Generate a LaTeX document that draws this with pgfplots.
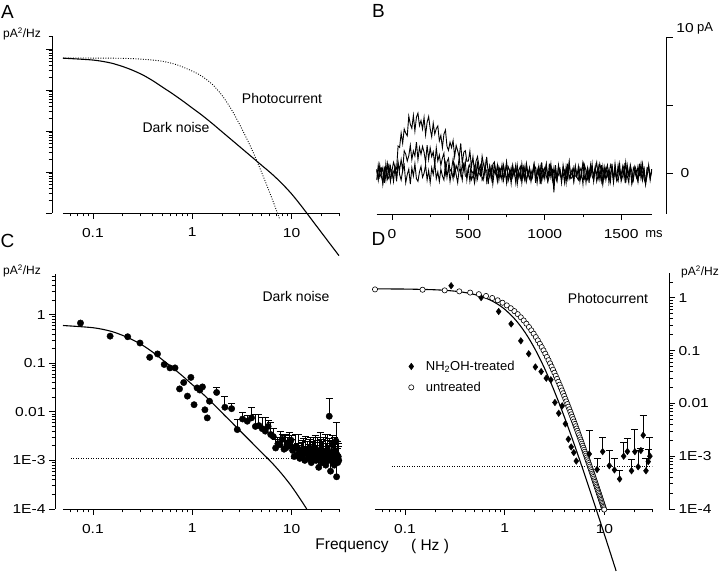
\documentclass[border=0pt]{standalone}
\usepackage{fontspec}
\setmainfont{Liberation Sans}
\newfontfamily\tickfont{Liberation Sans}[FakeStretch=1.2]
\usepackage{pgfplots}
\pgfplotsset{compat=1.18}
\usepackage{pgfplotstable}
\newcommand\fs[1]{\fontsize{#1}{#1}\selectfont}
\pgfplotsset{
  mybase/.style={scale only axis, clip=false, anchor=south west,
    axis line style={-, line width=0.9pt, black},
    tick style={black, line width=0.8pt},
    tick align=outside, major tick length=6pt, minor tick length=3.5pt,
    tick label style={font=\tickfont\fs{13}},
    xticklabel style={yshift=-5.5pt}},
  mycurve/.style={black, line width=1.1pt, smooth, no markers},
  mydots/.style={black, only marks, mark=*, mark size=3.2pt},
  myebar/.style={error bars/y dir=plus, error bars/y explicit,
    error bars/error bar style={line width=0.9pt, black},
    error bars/error mark options={rotate=90, mark size=3.5pt, line width=0.9pt, black}},
}
\pgfplotstableread{
t a b c
-100 0.3 0.2 -0.5
-90 -0.5 -0.4 0.6
-80 0.6 0.3 -0.3
-70 -0.2 0.4 0.0
-60 -0.7 -0.8 0.4
-50 0.4 0.2 -0.7
-40 0.1 -0.5 0.7
-30 -0.4 0.7 -0.2
-20 0.7 -0.1 -0.4
-10 -0.6 0.5 0.3
0 0.2 -0.3 0.2
10 0.8 0.1 -0.6
20 0.4 0.4 0.5
30 0.3 -0.6 -0.3
40 2.0 0.7 0.8
50 1.9 0.25 -0.1
60 2.95 1.0 -0.5
70 2.2 0.2 0.2
80 3.25 1.65 0.6
90 2.95 1.4 -0.7
100 2.75 0.9 -0.1
110 4.2 1.28 0.3
120 3.6 2.05 -0.8
130 3.3 1.0 0.4
140 4.25 1.64 -0.2
150 3.1 1.27 0.7
160 4.12 2.29 -0.4
170 4.42 1.0 -0.6
180 3.5 1.9 0.1
190 3.88 1.39 0.5
200 3.25 1.97 -0.3
210 4.1 1.54 0.0
220 2.82 0.8 0.6
230 3.75 2.06 -0.5
240 4.17 1.02 0.2
250 3.28 1.87 -0.7
260 2.68 1.22 0.4
270 3.68 1.57 -0.1
280 2.88 0.62 0.8
290 3.28 1.86 -0.4
300 3.48 0.9 0.1
310 2.38 1.34 -0.6
320 2.78 0.58 0.3
330 1.88 1.12 -0.2
340 2.88 1.46 -0.5
350 3.18 0.0 0.7
360 1.98 0.85 -0.3
370 1.68 1.1 0.5
380 2.28 0.15 -0.6
390 1.88 0.3 0.2
400 2.4 1.05 -0.4
410 1.22 -0.1 0.6
420 2.04 0.56 -0.1
430 1.66 0.22 -0.7
440 1.18 1.18 0.3
450 2.2 -0.06 0.1
460 0.72 0.6 -0.5
470 1.54 0.17 0.8
480 1.66 0.84 -0.2
490 0.88 -0.49 -0.3
500 0.9 0.38 0.4
510 1.63 0.65 -0.6
520 0.46 -0.48 0.2
530 1.2 -0.2 0.0
540 0.04 0.48 -0.7
550 0.88 -0.44 0.5
560 1.22 0.74 -0.4
570 0.46 0.02 0.3
580 0.0 -0.2 0.6
590 1.25 0.6 -0.5
600 0.6 -0.4 -0.2
610 0.15 0.3 0.7
620 1.2 0.2 -0.6
630 -0.04 -0.8 0.1
640 0.52 0.5 -0.3
650 -0.42 -0.1 0.4
660 0.65 -0.3 -0.8
670 0.82 0.7 0.2
680 0.09 0.1 -0.1
690 -0.34 -0.6 0.6
700 0.44 0.4 -0.5
710 0.12 -0.2 0.3
720 -0.5 0.6 0.5
730 0.59 -0.5 -0.4
740 -0.12 0.3 -0.1
750 0.77 -0.7 0.8
760 -0.34 0.5 -0.6
770 0.15 0.2 -0.2
780 -0.76 -0.3 0.4
790 0.43 0.6 -0.3
800 -0.08 -0.1 0.2
810 0.6 0.4 -0.7
820 -0.3 -0.8 0.6
830 0.2 0.1 -0.3
840 0.5 -0.4 0.1
850 -0.7 0.7 -0.5
860 0.3 -0.2 0.4
870 -0.5 0.5 -0.6
880 0.6 -0.6 0.7
890 -0.2 0.0 0.0
900 0.4 0.3 -0.4
910 -0.6 -0.5 0.2
920 0.1 -0.1 -0.3
930 0.7 0.6 0.6
940 -0.3 0.4 -0.7
950 -0.1 -0.7 0.3
960 0.5 0.2 -0.1
970 -0.8 -0.4 0.5
980 0.2 0.8 -0.6
990 0.3 -0.3 0.1
1000 -0.4 0.1 0.4
1010 0.6 0.7 -0.2
1020 -0.2 -0.6 -0.6
1030 0.0 -0.2 0.7
1040 0.7 0.5 -0.3
1050 -0.5 0.1 0.2
1060 0.4 -0.8 -1.4
1070 -0.3 0.3 0.6
1080 -0.6 -0.5 -0.4
1090 0.5 0.6 -0.1
1100 0.2 -0.2 0.3
1110 -0.7 -0.3 -0.5
1120 0.6 0.4 0.1
1130 -0.1 0.2 -0.7
1140 0.3 -0.7 0.5
1150 -0.4 0.7 -0.2
1160 0.8 -0.4 0.8
1170 -0.2 0.0 -0.4
1180 0.1 0.3 -0.3
1190 -0.6 -0.6 0.4
1200 0.5 0.5 -0.2
1210 -0.3 -0.1 -0.3
1220 -0.5 0.2 0.5
1230 0.4 -0.5 -0.6
1240 0.1 -0.3 0.2
1250 -0.8 0.8 0.7
1260 0.6 0.4 -0.4
1270 0.2 -0.7 -0.1
1280 -0.4 0.1 0.4
1290 0.3 -0.4 -0.7
1300 -0.2 0.6 0.6
1310 0.7 0.3 -0.2
1320 -0.6 -0.2 -0.5
1330 0.3 0.5 0.3
1340 -0.1 -0.6 0.8
1350 0.5 -0.1 -0.4
1360 -0.4 0.7 0.1
1370 0.6 0.2 -0.6
1380 -0.7 -0.8 0.5
1390 0.0 0.4 -0.3
1400 0.4 -0.5 0.2
1410 -0.2 0.1 0.6
1420 0.3 -0.3 -0.7
1430 -0.6 0.6 0.0
1440 0.7 0.3 0.4
1450 -0.3 -0.7 -0.5
1460 0.1 0.5 0.7
1470 -0.5 -0.4 -0.3
1480 0.6 0.0 -0.6
1490 -0.1 0.7 0.3
1500 -0.4 -0.6 -0.1
1510 0.2 -0.2 0.5
1520 0.6 0.3 -0.4
1530 -0.7 -0.5 0.8
1540 0.3 0.6 -0.2
1550 -0.2 -0.1 -0.7
1560 0.5 0.4 0.6
1570 -0.6 -0.8 0.1
1580 0.4 -0.3 -0.5
1590 0.1 0.5 0.4
1600 -0.3 0.2 -0.3
1610 0.5 -0.6 -0.6
1620 -0.1 0.7 0.4
1630 0.7 -0.4 -0.1
1640 -0.5 0.1 0.7
1650 0.2 0.4 -0.4
1660 -0.8 -0.7 -0.8
1670 0.4 -0.2 0.3
1680 0.3 0.6 0.5
1690 -0.4 -0.5 -0.2
1700 0.2 0.3 0.1
}\tracesB
\pgfplotstableread{
f s e
1.76 0.025 0.007
2.13 0.0124 0.0086
2.49 0.0116 0.0034
2.84 0.0043 0.0028
3.21 0.0071 0.0024
3.58 0.0064 0.0021
3.95 0.0075 0.0045
4.32 0.0050 0.0037
4.69 0.0052 0.0035
5.06 0.0045 0.0032
5.43 0.0040 0.0035
5.80 0.0050 0.0015
6.17 0.0034 0.0025
6.54 0.0031 0.0014
6.91 0.0018 0.0009
7.28 0.0022 0.0008
7.65 0.0021 0.0019
8.02 0.0027 0.0007
8.39 0.0017 0.0015
8.76 0.0018 0.0016
9.13 0.0023 0.0007
9.50 0.0020 0.0017
9.87 0.0026 0.0007
10.24 0.0016 0.0011
10.61 0.0012 0.0007
10.98 0.0019 0.0015
11.35 0.0013 0.0009
11.72 0.0017 0.0017
12.09 0.0011 0.0009
12.46 0.0015 0.0008
12.83 0.0012 0.0014
13.20 0.0016 0.0012
13.57 0.0010 0.0009
13.94 0.0014 0.0017
14.31 0.0017 0.0008
14.68 0.0011 0.0010
15.05 0.0013 0.0014
15.42 0.0016 0.0014
15.79 0.0009 0.0009
16.16 0.0012 0.0012
16.53 0.0018 0.0011
16.90 0.0011 0.0012
17.27 0.0014 0.0018
17.64 0.0010 0.0010
18.01 0.0016 0.0010
18.38 0.0012 0.0018
18.75 0.00072 0.0009
19.12 0.0013 0.0010
19.49 0.0011 0.0027
19.86 0.0017 0.0010
20.23 0.0009 0.0010
20.60 0.0014 0.0011
20.97 0.0012 0.0017
21.34 0.0010 0.0008
21.71 0.0015 0.0019
22.08 0.0008 0.0009
22.45 0.0013 0.0009
22.82 0.0011 0.0015
23.19 0.0016 0.0019
23.56 0.0010 0.0010
23.93 0.0081 0.0104
24.30 0.0012 0.0016
24.67 0.0006 0.0007
25.04 0.0014 0.0010
25.41 0.0010 0.0012
25.78 0.0021 0.0012
26.15 0.0009 0.0010
26.52 0.0013 0.0013
26.89 0.0008 0.0009
27.26 0.0016 0.0013
27.63 0.0011 0.0010
28.00 0.0025 0.0035
28.37 0.00046 0.0005
28.74 0.0013 0.0011
29.11 0.0009 0.0009
29.48 0.0012 0.0010
29.85 0.0010 0.0009
}\darkbinned
\pgfplotstableread{
f s e
7.04 0.0011 0.0020
8.43 0.00056 0.00033
9.6 0.00122 0.00108
11.2 0.00066 0.00062
12.6 0.00055 0.00034
14.2 0.00037 0.00017
15.6 0.0010 0.0008
17.0 0.00123 0.00097
18.7 0.00053 0.00032
20.2 0.00122 0.00198
21.8 0.00063 0.00065
23.2 0.00128 0.00012
24.5 0.0025 0.0034
26.1 0.00053 0.00036
27.5 0.00079 0.00057
28.6 0.0010 0.0013
}\nhbinned
\begin{document}
\begin{tikzpicture}
\useasboundingbox (0pt,0pt) rectangle (720pt,572pt);
% ---------------- Panel A
\begin{axis}[mybase, xmode=log, ymode=log, xmin=0.05, xmax=30, ymin=1e-4, ymax=2.07,
  at={(63pt,359pt)}, width=276pt, height=177pt,
  axis x line*=bottom, axis y line=none, ytick=\empty,
  xtick={0.1,1,10}, xticklabels={0.1,1,10},
  minor xtick={0.06,0.07,0.08,0.09,0.2,0.3,0.4,0.5,0.6,0.7,0.8,0.9,2,3,4,5,6,7,8,9,20,30}]
\addplot[mycurve] coordinates {(0.05,0.596) (0.1,0.537) (0.15,0.457) (0.2,0.372) (0.251,0.302) (0.316,0.234) (0.398,0.170) (0.501,0.1175) (0.631,0.0813) (0.794,0.0550) (1,0.0363) (1.259,0.0240) (1.585,0.01531) (1.995,0.00955) (2.512,0.00596) (3.162,0.00372) (3.981,0.00232) (5.012,0.001445) (6.31,0.000902) (7.943,0.000531) (10,0.000292) (12.59,0.0001462) (15.85,0.0000700) (19.95,0.0000335) (25.12,0.00001603) (30,0.00000912)};
\addplot[black, line width=0.9pt, dash pattern=on 0.9pt off 1.6pt, smooth] coordinates {(0.05,0.6026) (0.1,0.5998) (0.2,0.5916) (0.316,0.5623) (0.5,0.5012) (0.708,0.4074) (1,0.2884) (1.259,0.2138) (1.585,0.1380) (1.995,0.0741) (2.512,0.0316) (3.162,0.01122) (3.981,0.003548) (5.012,0.000955) (6.31,0.000234) (7.586,0.0000708)};
\end{axis}
\begin{axis}[mybase, ymode=log, xmin=0, xmax=1, ymin=1e-4, ymax=2.07,
  at={(52pt,359pt)}, width=10pt, height=177pt,
  axis x line=none, xtick=\empty, axis y line*=left,
  ytick={1e-4,1e-3,0.01,0.1,1}, yticklabels={,,,,},
  minor ytick={2e-4,3e-4,4e-4,5e-4,6e-4,7e-4,8e-4,9e-4,2e-3,3e-3,4e-3,5e-3,6e-3,7e-3,8e-3,9e-3,0.02,0.03,0.04,0.05,0.06,0.07,0.08,0.09,0.2,0.3,0.4,0.5,0.6,0.7,0.8,0.9,2}]
\end{axis}
% ---------------- Panel B
\begin{axis}[mybase, at={(376.7pt,358pt)}, width=275pt, height=176.7pt, xmin=-100, xmax=1700, ymin=-3, ymax=10,
  axis x line*=bottom, axis y line=none, ytick=\empty, xtick={0,500,1000,1500}, xticklabels={0,500,1000,1500}, minor xtick={250,750,1250}]
\addplot[black, line width=0.9pt] table[x=t, y=c] {\tracesB};
\addplot[black, line width=0.9pt] table[x=t, y=b] {\tracesB};
\addplot[black, line width=0.9pt] table[x=t, y=a] {\tracesB};
\end{axis}
\begin{axis}[mybase, at={(376.7pt,358pt)}, width=290pt, height=176.7pt, xmin=0, xmax=1, axis x line=none, xtick=\empty,
  ymin=-3, ymax=10, axis y line*=right, ytick={0,5,10}, yticklabels={,,}]
\end{axis}
% ---------------- Panel C
\begin{axis}[mybase, xmode=log, ymode=log, xmin=0.05, xmax=30, ymin=1e-4, ymax=6.84,
  at={(63pt,63pt)}, width=276pt, height=235pt,
  axis x line*=bottom, axis y line=none, ytick=\empty,
  xtick={0.1,1,10}, xticklabels={0.1,1,10},
  minor xtick={0.06,0.07,0.08,0.09,0.2,0.3,0.4,0.5,0.6,0.7,0.8,0.9,2,3,4,5,6,7,8,9,20,30}]
\addplot[black, line width=0.9pt, dash pattern=on 0.9pt off 1.6pt] coordinates {(0.06,0.0011) (30,0.0011)};
\addplot[mycurve] coordinates {(0.05,0.596) (0.1,0.537) (0.15,0.457) (0.2,0.372) (0.251,0.302) (0.316,0.234) (0.398,0.170) (0.501,0.1175) (0.631,0.0813) (0.794,0.0550) (1,0.0363) (1.259,0.0240) (1.585,0.01531) (1.995,0.00955) (2.512,0.00596) (3.162,0.00372) (3.981,0.00232) (5.012,0.001445) (6.31,0.000902) (7.943,0.000531) (10,0.000292) (12.59,0.0001462) (14.2,0.0001)};
\addplot[mydots] coordinates {(0.075,0.67) (0.149,0.36) (0.224,0.35) (0.298,0.26) (0.373,0.132) (0.447,0.155) (0.522,0.094) (0.596,0.080) (0.671,0.080) (0.745,0.0296) (0.820,0.040) (0.894,0.021) (0.969,0.051) (1.043,0.014) (1.118,0.031) (1.192,0.028) (1.267,0.0325) (1.341,0.011) (1.416,0.0075) (1.490,0.0165)};
\addplot[mydots, myebar] table[x=f, y=s, y error plus=e] {\darkbinned};
\end{axis}
\begin{axis}[mybase, ymode=log, xmin=0, xmax=1, ymin=1e-4, ymax=6.84,
  at={(55pt,63pt)}, width=10pt, height=235pt,
  axis x line=none, xtick=\empty, axis y line*=left,
  ytick={1e-4,1e-3,0.01,0.1,1}, yticklabels={1E-4,1E-3,0.01,0.1,1},
  minor ytick={2e-4,3e-4,4e-4,5e-4,6e-4,7e-4,8e-4,9e-4,2e-3,3e-3,4e-3,5e-3,6e-3,7e-3,8e-3,9e-3,0.02,0.03,0.04,0.05,0.06,0.07,0.08,0.09,0.2,0.3,0.4,0.5,0.6,0.7,0.8,0.9,2,3,4,5,6}]
\end{axis}
% ---------------- Panel D
\begin{axis}[mybase, xmode=log, ymode=log, xmin=0.05, xmax=30, ymin=1e-4, ymax=2.95,
  at={(375pt,63pt)}, width=277pt, height=236pt,
  axis x line*=bottom, axis y line=none, ytick=\empty,
  xtick={0.1,1,10}, xticklabels={0.1,1,10},
  minor xtick={0.06,0.07,0.08,0.09,0.2,0.3,0.4,0.5,0.6,0.7,0.8,0.9,2,3,4,5,6,7,8,9,20,30},
  legend style={draw=none, fill=none, at={(0.11,0.645)}, anchor=north west, font=\fs{13}, row sep=6pt},
  legend cell align=left]
\addplot[black, line width=0.9pt, dash pattern=on 0.9pt off 1.6pt, forget plot] coordinates {(0.074,0.00063) (30,0.00063)};
\addplot[mycurve, forget plot] coordinates {(0.05,1.475) (0.1,1.464) (0.2,1.419) (0.3,1.349) (0.4,1.258) (0.5,1.153) (0.6,1.040) (0.7,0.9245) (0.8,0.8116) (0.9,0.7047) (1.0,0.6066) (1.2,0.4396) (1.4,0.3130) (1.6,0.2206) (1.8,0.1550) (2.0,0.1091) (2.25,0.0710) (2.5,0.04675) (2.75,0.03126) (3.0,0.02124) (3.5,0.01029) (4.0,0.005297) (4.5,0.002881) (5.0,0.001645) (5.5,0.000981) (6.0,0.000607) (7.0,0.0002555) (8.0,0.0001193) (9.0,0.0000605) (10.0,0.0000328) (11.0,0.0000188) (12.0,0.00001126) (13.1,0.00000672)};
\addplot[black, only marks, mark=diamond*, mark size=3.3pt] coordinates {(0.29,1.69) (0.58,1.01) (0.87,0.55) (1.16,0.32) (1.45,0.153) (1.74,0.087) (2.03,0.049) (2.32,0.040) (2.61,0.030) (2.90,0.028) (3.19,0.0104) (3.48,0.0065) (3.77,0.009) (4.06,0.0041) (4.35,0.0021) (4.64,0.0015) (4.93,0.00117) (5.22,0.00081)};
\addlegendentry{\hspace*{10pt}NH\textsubscript{2}OH-treated}
\addplot[black, only marks, mark=*, mark size=2.6pt, mark options={fill=white, line width=0.6pt}] coordinates {(0.05,1.443) (0.15,1.422) (0.25,1.383) (0.35,1.326) (0.45,1.255) (0.55,1.173) (0.65,1.084) (0.75,0.9915) (0.85,0.898) (0.95,0.8065) (1.05,0.7186) (1.15,0.6360) (1.25,0.5598) (1.35,0.4905) (1.45,0.4280) (1.55,0.3723) (1.65,0.3230) (1.75,0.2798) (1.85,0.2419) (1.95,0.2091) (2.05,0.1806) (2.15,0.1561) (2.25,0.1349) (2.35,0.1166) (2.45,0.1009) (2.55,0.08745) (2.65,0.07586) (2.75,0.06588) (2.85,0.05730) (2.95,0.04991) (3.05,0.04355) (3.15,0.03806) (3.25,0.03332) (3.35,0.02922) (3.45,0.02568) (3.55,0.02261) (3.65,0.01994) (3.75,0.01761) (3.85,0.01559) (3.95,0.01381) (4.05,0.01226) (4.15,0.01091) (4.25,0.009721) (4.35,0.008678) (4.45,0.007756) (4.55,0.006945) (4.65,0.006229) (4.75,0.005595) (4.85,0.005035) (4.95,0.004535) (5.05,0.004093) (5.15,0.003700) (5.25,0.003347) (5.35,0.003033) (5.45,0.002753) (5.55,0.002501) (5.65,0.002275) (5.75,0.002073) (5.85,0.001891) (5.95,0.001727) (6.05,0.001579) (6.15,0.001445) (6.25,0.001325) (6.35,0.001216) (6.45,0.001116) (6.55,0.001026) (6.65,0.000945) (6.75,0.000870) (6.85,0.000803) (6.95,0.000741) (7.05,0.000685) (7.15,0.000634) (7.25,0.000587) (7.35,0.000543) (7.45,0.000504) (7.55,0.000468) (7.65,0.000435) (7.75,0.000404) (7.85,0.000376) (7.95,0.000350) (8.05,0.000327) (8.15,0.000305) (8.25,0.000284) (8.35,0.000266) (8.45,0.000248) (8.55,0.000232) (8.65,0.000217) (8.75,0.000204) (8.85,0.000191) (8.95,0.000179) (9.05,0.000168) (9.15,0.000158) (9.25,0.000148) (9.35,0.0001395) (9.45,0.0001312) (9.55,0.0001235) (9.65,0.0001163) (9.75,0.0001097) (9.85,0.0001034) (9.95,0.0000976)};
\addlegendentry{\hspace*{10pt}untreated}
\addplot[black, only marks, mark=diamond*, mark size=3.3pt, forget plot, myebar] table[x=f, y=s, y error plus=e] {\nhbinned};
\end{axis}
\begin{axis}[mybase, ymode=log, xmin=0, xmax=1, ymin=1e-4, ymax=2.95,
  at={(375pt,63pt)}, width=294pt, height=236pt,
  axis x line=none, xtick=\empty, axis y line*=right,
  ytick={1e-4,1e-3,0.01,0.1,1}, yticklabels={1E-4,1E-3,0.01,0.1,1},
  minor ytick={2e-4,3e-4,4e-4,5e-4,6e-4,7e-4,8e-4,9e-4,2e-3,3e-3,4e-3,5e-3,6e-3,7e-3,8e-3,9e-3,0.02,0.03,0.04,0.05,0.06,0.07,0.08,0.09,0.2,0.3,0.4,0.5,0.6,0.7,0.8,0.9,2}]
\end{axis}
% ---------------- Texts
\node[font=\fs{19}] at (7.5pt,560pt) {A};
\node[font=\fs{19}] at (378.5pt,561pt) {B};
\node[font=\fs{19}] at (7.5pt,331pt) {C};
\node[font=\fs{19}] at (378.5pt,333pt) {D};
\node[font=\fs{12}] at (22pt,538pt) {pA\textsuperscript{2}/Hz};
\node[font=\fs{12}] at (22pt,301pt) {pA\textsuperscript{2}/Hz};
\node[font=\fs{12}] at (700pt,300pt) {pA\textsuperscript{2}/Hz};
\node[font=\fs{14}] at (282pt,473pt) {Photocurrent};
\node[font=\fs{14}] at (176pt,444pt) {Dark noise};
\node[font=\fs{14}] at (296pt,275pt) {Dark noise};
\node[font=\fs{14}] at (608pt,273pt) {Photocurrent};
\node[font=\tickfont\fs{13}] at (685pt,399pt) {0};
\node[font=\tickfont\fs{13}] at (685pt,544pt) {10};
\node[font=\fs{13}] at (705pt,544pt) {pA};
\node[font=\fs{13}] at (654pt,338pt) {ms};
\node[font=\fs{15.5}] at (352pt,26pt) {Frequency};
\node[font=\fs{15.5}] at (430pt,26pt) {( Hz )};
\end{tikzpicture}
\end{document}
